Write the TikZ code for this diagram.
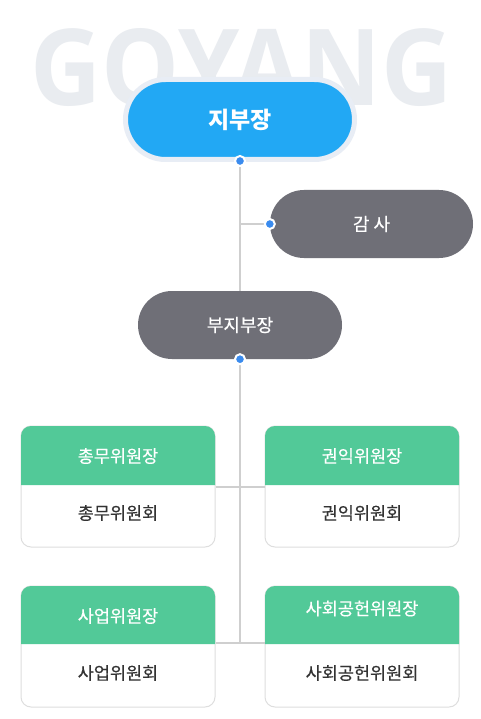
\documentclass[tikz,border=0pt]{standalone}
\usepackage{fontspec}
\usepackage{graphicx}
\setmainfont{Noto Sans CJK KR}
\newfontfamily\krm{Noto Sans CJK KR}[FakeBold=0.35]
\newfontfamily\goyfont{Open Sans}
\definecolor{gblue}{HTML}{22A8F4}
\definecolor{gring}{HTML}{E8EDF5}
\definecolor{ggray}{HTML}{6F6F77}
\definecolor{ggreen}{HTML}{52C998}
\definecolor{gline}{HTML}{CFCFCF}
\definecolor{gdot}{HTML}{3A8BEE}
\definecolor{gbg}{HTML}{E9ECF0}
\definecolor{gbord}{HTML}{DEDEDE}
\definecolor{gtext}{HTML}{333333}
\tikzset{
  pill/.style={text=white, inner sep=0pt, font=\krm\fontsize{18}{18}\selectfont},
  box/.style={draw=gbord, fill=white, line width=1pt, minimum width=194pt, minimum height=121pt, rounded corners=10pt, inner sep=0pt},
  conn/.style={draw=gline, line width=2pt},
  dot/.style={circle, fill=gdot, draw=white, line width=2pt, minimum size=10pt, inner sep=0pt},
  hdrtext/.style={text=white, inner sep=0pt, font=\krm\fontsize{17.5}{17.5}\selectfont},
  bodytext/.style={text=gtext, inner sep=0pt, font=\krm\fontsize{17.5}{17.5}\selectfont}
}
\begin{document}
\begin{tikzpicture}[x=1pt,y=-1pt]
\useasboundingbox (0,0) rectangle (480,719);
\fill[white] (0,0) rectangle (480,719);
% background logo
\node[anchor=base west, inner sep=0pt, text=gbg] (logo) at (30,106) {\resizebox{422pt}{77pt}{\goyfont\bfseries GOYANG}};
% top pills
\node[pill, fill=gblue, draw=gring, line width=5pt, minimum width=229pt, minimum height=80pt, rounded corners=40pt, font=\fontsize{23}{23}\selectfont\bfseries] (top) at (240,119.5) {지부장};
\node[pill, fill=ggray, minimum width=203pt, minimum height=68pt, rounded corners=34pt] (audit) at (371.5,224) {감 사};
\node[pill, fill=ggray, minimum width=204pt, minimum height=68pt, rounded corners=34pt] (vice) at (240,325) {부지부장};
% boxes
\node[box] (b1) at (118,486.5) {};
\node[box] (b2) at (362,486.5) {};
\node[box] (b3) at (118,646.5) {};
\node[box] (b4) at (362,646.5) {};
\fill[ggreen] (21,485) [rounded corners=10pt] -- (21,426) -- (215,426) [sharp corners] -- (215,485) -- cycle;
\fill[ggreen] (265,485) [rounded corners=10pt] -- (265,426) -- (459,426) [sharp corners] -- (459,485) -- cycle;
\fill[ggreen] (21,644) [rounded corners=10pt] -- (21,586) -- (215,586) [sharp corners] -- (215,644) -- cycle;
\fill[ggreen] (265,644) [rounded corners=10pt] -- (265,586) -- (459,586) [sharp corners] -- (459,644) -- cycle;
\node[hdrtext] (h1) at (118,456) {총무위원장};
\node[hdrtext] (h2) at (362,456) {권익위원장};
\node[hdrtext] (h3) at (118,616) {사업위원장};
\node[hdrtext] (h4) at (362,608.5) {사회공헌위원장};
\node[bodytext] (t1) at (118,513) {총무위원회};
\node[bodytext] (t2) at (362,513) {권익위원회};
\node[bodytext] (t3) at (118,673) {사업위원회};
\node[bodytext] (t4) at (362,673) {사회공헌위원회};
% connectors
\coordinate (ja) at (240,224);
\coordinate (j2) at (240,643);
\draw[conn] (top.south) -- (vice.north);
\draw[conn] (ja) -- (audit.west);
\draw[conn] (vice.south) -- (j2);
\draw[conn] (b1.east) -- (b2.west);
\draw[conn] (b3.east |- j2) -- (b4.west |- j2);
% dots
\node[dot] (d1) at ([yshift=1pt]top.south) {};
\node[dot] (d2) at (audit.west) {};
\node[dot] (d3) at (vice.south) {};
\end{tikzpicture}
\end{document}
